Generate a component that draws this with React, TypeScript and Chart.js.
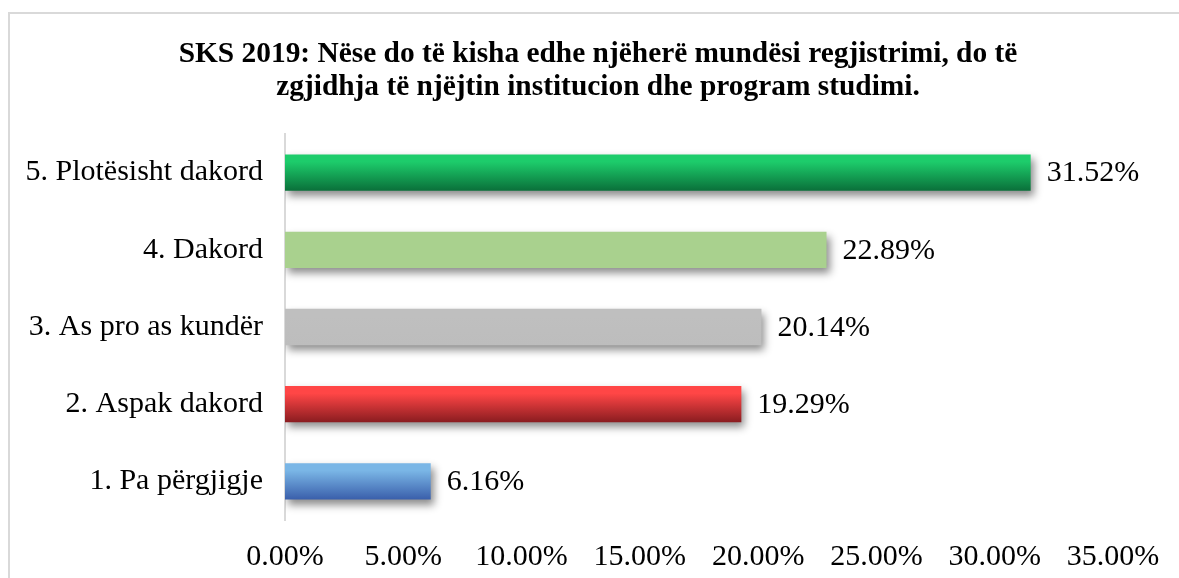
import React, { useEffect, useRef } from "react";
import { Chart, registerables } from "chart.js";

Chart.register(...registerables);

const TITLE_LINES = [
  "SKS 2019: Nëse do të kisha edhe njëherë mundësi regjistrimi, do të",
  "zgjidhja të njëjtin institucion dhe program studimi.",
];
const CATEGORIES = [
  "5. Plotësisht dakord",
  "4. Dakord",
  "3. As pro as kundër",
  "2. Aspak dakord",
  "1. Pa përgjigje",
];
const VALUES = [31.52, 22.89, 20.14, 19.29, 6.16];
const GRADIENT_TOP = ["#1dcc6b", "#a9d18e", "#bfbfbf", "#ff4646", "#7ab6e6"];
const GRADIENT_BOTTOM = ["#0a703a", "#a9d18e", "#bdbdbd", "#8a1c20", "#3a5fab"];
const X_MIN = 0;
const X_MAX = 35;
const X_STEP = 5;

const FONT = "'Liberation Serif', 'Times New Roman', serif";

const titlePlugin = {
  id: "customTitle",
  afterDraw(chart: any) {
    const ctx = chart.ctx;
    ctx.save();
    ctx.font = `bold 29.4px ${FONT}`;
    ctx.fillStyle = "#000";
    ctx.textAlign = "center";
    ctx.textBaseline = "middle";
    const cx = 598;
    TITLE_LINES.forEach((line, i) => {
      ctx.fillText(line, cx, 54 + i * 33.2);
    });
    ctx.restore();
  },
};

const shadowPlugin = {
  id: "barShadow",
  beforeDatasetDraw(chart: any) {
    const ctx = chart.ctx;
    ctx.save();
    ctx.shadowColor = "rgba(0,0,0,0.45)";
    ctx.shadowBlur = 8;
    ctx.shadowOffsetX = 3;
    ctx.shadowOffsetY = 5;
  },
  afterDatasetDraw(chart: any) {
    chart.ctx.restore();
  },
};

const labelPlugin = {
  id: "valueLabels",
  afterDatasetsDraw(chart: any) {
    const ctx = chart.ctx;
    const meta = chart.getDatasetMeta(0);
    ctx.save();
    ctx.font = `30px ${FONT}`;
    ctx.fillStyle = "#000";
    ctx.textAlign = "left";
    ctx.textBaseline = "middle";
    meta.data.forEach((bar: any, i: number) => {
      const v = chart.data.datasets[0].data[i] as number;
      ctx.fillText(v.toFixed(2) + "%", bar.x + 16, bar.y + 1);
    });
    ctx.restore();
  },
};

function App() {
  const ref = useRef<HTMLCanvasElement | null>(null);

  useEffect(() => {
    document.documentElement.style.overflow = "hidden";
    document.body.style.overflow = "hidden";
    const canvas = ref.current!;
    const chart = new Chart(canvas, {
      type: "bar",
      data: {
        labels: CATEGORIES,
        datasets: [
          {
            data: VALUES,
            backgroundColor: (c: any) => {
              const ch = c.chart;
              const y = ch.scales?.y;
              const i = c.dataIndex ?? 0;
              if (!y || !ch.chartArea) return GRADIENT_TOP[i];
              const center = y.getPixelForValue(i);
              const g = ch.ctx.createLinearGradient(0, center - 18, 0, center + 18);
              g.addColorStop(0, GRADIENT_TOP[i]);
              g.addColorStop(0.2, GRADIENT_TOP[i]);
              g.addColorStop(1, GRADIENT_BOTTOM[i]);
              return g;
            },
            borderWidth: 0,
            barPercentage: 0.47,
            categoryPercentage: 1,
          },
        ],
      },
      options: {
        indexAxis: "y",
        responsive: false,
        animation: false,
        devicePixelRatio: 1,
        layout: { padding: { left: 0, right: 66, top: 134, bottom: 0 } },
        plugins: {
          legend: { display: false },
          tooltip: { enabled: false },
          title: { display: false },
        },
        scales: {
          x: {
            min: X_MIN,
            max: X_MAX,
            ticks: {
              stepSize: X_STEP,
              color: "#000",
              font: { family: FONT, size: 30 },
              padding: 19,
              callback: (v: any) => Number(v).toFixed(2) + "%",
            },
            grid: { display: false, drawTicks: false },
            border: { display: false },
            afterFit: (s: any) => {
              s.height = 58;
            },
          },
          y: {
            ticks: {
              color: "#000",
              font: { family: FONT, size: 30 },
              padding: 22,
            },
            grid: { display: false, drawTicks: false },
            border: { display: true, color: "#d9d9d9", width: 2 },
            afterFit: (s: any) => {
              s.width = 285;
            },
          },
        },
      },
      plugins: [titlePlugin, shadowPlugin, labelPlugin],
    } as any);
    return () => chart.destroy();
  }, []);

  return (
    <>
      <div
        style={{
          position: "fixed",
          left: 8,
          top: 12,
          width: 1171,
          height: 2,
          background: "#d9d9d9",
        }}
      />
      <div
        style={{
          position: "fixed",
          left: 8,
          top: 12,
          width: 2,
          height: 566,
          background: "#d9d9d9",
        }}
      />
      <canvas
        ref={ref}
        width={1179}
        height={578}
        style={{ position: "fixed", left: 0, top: 0, width: 1179, height: 578 }}
      />
    </>
  );
}

export default App;
